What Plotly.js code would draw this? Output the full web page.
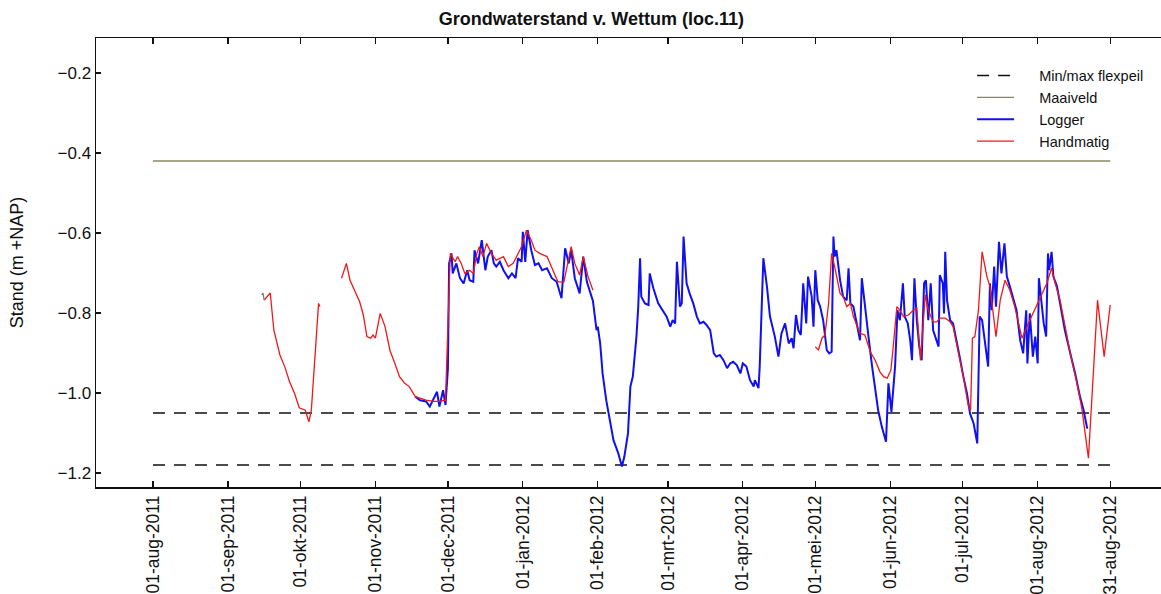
<!DOCTYPE html>
<html>
<head>
<meta charset="utf-8">
<script src="https://cdn.plot.ly/plotly-3.0.1.min.js"></script>
<style>
  html, body { margin: 0; padding: 0; background: #ffffff; overflow: hidden; }
  #chart { width: 1175px; height: 594px; }
</style>
</head>
<body>
<div id="chart"></div>
<script>
// Grondwaterstand v. Wettum (loc.11) -- stand in m +NAP

// Periode waarvoor maaiveld en flexpeil gelden
const periodStart = "2011-08-01";
const periodEnd = "2012-08-31";

// Referentieniveaus (m +NAP)
const maaiveldLevel = -0.42;
const flexpeilMax = -1.05;
const flexpeilMin = -1.18;

// Loggerreeks
const loggerDates = [
  "2011-11-17 12:00","2011-11-19 12:00","2011-11-22","2011-11-23 12:00","2011-11-26 12:00","2011-11-27 12:00",
  "2011-11-29","2011-11-30","2011-12-01","2011-12-01 12:00","2011-12-02 12:00","2011-12-03","2011-12-04 12:00",
  "2011-12-06","2011-12-07 12:00","2011-12-09","2011-12-10","2011-12-11 12:00","2011-12-12","2011-12-13 12:00",
  "2011-12-15","2011-12-16 12:00","2011-12-17 12:00","2011-12-19","2011-12-20","2011-12-21","2011-12-22 12:00",
  "2011-12-24","2011-12-26","2011-12-27 12:00","2011-12-29","2011-12-30","2011-12-31 12:00","2012-01-01",
  "2012-01-02","2012-01-03","2012-01-04 12:00","2012-01-06","2012-01-07 12:00","2012-01-09","2012-01-11",
  "2012-01-13","2012-01-15","2012-01-17","2012-01-18 12:00","2012-01-20","2012-01-21","2012-01-22 12:00",
  "2012-01-24 12:00","2012-01-26","2012-01-27 12:00","2012-01-29","2012-01-30","2012-01-31 12:00","2012-02-01",
  "2012-02-02","2012-02-03","2012-02-04 12:00","2012-02-06","2012-02-07 12:00","2012-02-09 12:00","2012-02-11",
  "2012-02-12","2012-02-13 12:00","2012-02-14 12:00","2012-02-15 12:00","2012-02-17","2012-02-17 18:00",
  "2012-02-18 12:00","2012-02-19","2012-02-20 12:00","2012-02-22","2012-02-22 12:00","2012-02-24","2012-02-26",
  "2012-02-28","2012-02-29 12:00","2012-03-02","2012-03-03","2012-03-04","2012-03-04 18:00","2012-03-06",
  "2012-03-06 18:00","2012-03-07 12:00","2012-03-08 18:00","2012-03-10","2012-03-11 12:00","2012-03-13",
  "2012-03-14 06:00","2012-03-15 18:00","2012-03-17","2012-03-18 12:00","2012-03-20","2012-03-21",
  "2012-03-22 12:00","2012-03-24","2012-03-25 12:00","2012-03-26 18:00","2012-03-28","2012-03-29 12:00",
  "2012-03-31","2012-04-01","2012-04-02 12:00","2012-04-04","2012-04-05 12:00","2012-04-06","2012-04-07 12:00",
  "2012-04-08","2012-04-09 12:00","2012-04-11","2012-04-12 06:00","2012-04-14 06:00","2012-04-15 18:00",
  "2012-04-17","2012-04-18 12:00","2012-04-20","2012-04-21 06:00","2012-04-22","2012-04-23","2012-04-24",
  "2012-04-25","2012-04-26","2012-04-27 06:00","2012-04-28","2012-04-28 18:00","2012-04-29 12:00",
  "2012-04-30 06:00","2012-05-01","2012-05-02","2012-05-03","2012-05-04 06:00","2012-05-05 18:00",
  "2012-05-06 18:00","2012-05-07 18:00","2012-05-08 12:00","2012-05-09","2012-05-09 18:00","2012-05-11 06:00",
  "2012-05-12 12:00","2012-05-14","2012-05-14 18:00","2012-05-15 12:00","2012-05-16 18:00","2012-05-18",
  "2012-05-19 12:00","2012-05-20 06:00","2012-05-21 12:00","2012-05-23","2012-05-24 12:00","2012-05-25 18:00",
  "2012-05-27","2012-05-28 12:00","2012-05-30 06:00","2012-05-31 06:00","2012-06-01 12:00","2012-06-03",
  "2012-06-04","2012-06-05","2012-06-06 06:00","2012-06-07","2012-06-08 06:00","2012-06-09 06:00","2012-06-10",
  "2012-06-11","2012-06-12","2012-06-13","2012-06-14","2012-06-15","2012-06-15 18:00","2012-06-16 18:00",
  "2012-06-17 18:00","2012-06-18 18:00","2012-06-20 06:00","2012-06-21","2012-06-21 12:00","2012-06-22 18:00",
  "2012-06-23 06:00","2012-06-23 18:00","2012-06-24 12:00","2012-06-25 18:00","2012-06-27","2012-06-28 12:00",
  "2012-06-30","2012-07-01 06:00","2012-07-02 18:00","2012-07-04","2012-07-05 12:00","2012-07-07","2012-07-08",
  "2012-07-09","2012-07-10 06:00","2012-07-11 12:00","2012-07-12 06:00","2012-07-13","2012-07-14",
  "2012-07-14 18:00","2012-07-16","2012-07-17","2012-07-18 06:00","2012-07-19 06:00","2012-07-20 12:00",
  "2012-07-22","2012-07-23 06:00","2012-07-24 18:00","2012-07-26","2012-07-27 06:00","2012-07-27 18:00",
  "2012-07-28 18:00","2012-07-30","2012-07-31","2012-08-01","2012-08-01 12:00","2012-08-02 18:00",
  "2012-08-03 12:00","2012-08-04 12:00","2012-08-05 06:00","2012-08-05 18:00","2012-08-06 18:00",
  "2012-08-07 12:00","2012-08-09","2012-08-10 06:00","2012-08-12 06:00","2012-08-14 12:00","2012-08-16 12:00",
  "2012-08-18 12:00","2012-08-20","2012-08-21 12:00"
];
const loggerValues = [
  -1.009,-1.018,-1.021,-1.034,-0.997,-1.034,
  -0.993,-1.030,-0.940,-0.676,-0.651,-0.701,-0.676,
  -0.713,-0.726,-0.693,-0.718,-0.722,-0.643,-0.676,
  -0.618,-0.693,-0.659,-0.643,-0.676,-0.684,-0.672,
  -0.693,-0.713,-0.701,-0.713,-0.663,-0.672,-0.597,
  -0.672,-0.593,-0.643,-0.680,-0.676,-0.693,-0.688,
  -0.713,-0.722,-0.763,-0.638,-0.676,-0.643,-0.713,
  -0.751,-0.659,-0.722,-0.755,-0.770,-0.843,-0.834,
  -0.876,-0.951,-1.018,-1.068,-1.118,-1.151,-1.184,
  -1.159,-1.101,-0.984,-0.959,-0.859,-0.784,
  -0.663,-0.759,-0.776,-0.780,-0.701,-0.738,-0.776,
  -0.793,-0.809,-0.834,-0.818,-0.826,-0.672,-0.784,
  -0.776,-0.609,-0.726,-0.751,-0.776,-0.809,
  -0.826,-0.822,-0.830,-0.843,-0.901,-0.909,
  -0.905,-0.918,-0.938,-0.926,-0.922,-0.930,
  -0.951,-0.926,-0.934,-0.968,-0.984,-0.968,-0.988,
  -0.934,-0.663,-0.734,-0.809,-0.859,-0.909,
  -0.851,-0.826,-0.876,-0.863,-0.888,-0.805,-0.843,
  -0.855,-0.726,-0.826,-0.709,-0.738,-0.759,
  -0.834,-0.693,-0.768,-0.784,-0.818,-0.893,
  -0.901,-0.897,-0.609,-0.659,-0.643,-0.718,
  -0.759,-0.768,-0.688,-0.776,-0.784,-0.826,
  -0.868,-0.713,-0.784,-0.859,-0.934,-0.993,
  -1.043,-1.084,-1.122,-0.976,-1.047,-0.934,
  -0.793,-0.818,-0.726,-0.809,-0.826,-0.868,-0.918,
  -0.713,-0.818,-0.884,-0.918,-0.726,-0.718,-0.818,
  -0.726,-0.843,-0.868,-0.884,-0.705,-0.726,
  -0.801,-0.647,-0.768,-0.818,-0.826,-0.868,
  -0.918,-0.959,-1.001,-1.051,-1.076,-1.126,-0.809,
  -0.818,-0.884,-0.934,-0.726,-0.793,-0.684,
  -0.784,-0.622,-0.701,-0.626,-0.709,-0.734,
  -0.768,-0.793,-0.868,-0.901,-0.793,-0.926,
  -0.801,-0.909,-0.859,-0.926,-0.713,-0.776,
  -0.826,-0.859,-0.651,-0.693,-0.647,
  -0.709,-0.734,-0.776,-0.843,-0.901,-0.951,
  -1.009,-1.043,-1.089
];

// Handmatige metingen (null = geen metingen)
const handDates = [
  "2011-09-16","2011-09-18 12:00","2011-09-20","2011-09-21","2011-09-22 12:00","2011-09-24 12:00",
  "2011-09-26 12:00","2011-09-28 12:00","2011-09-30 12:00","2011-10-03","2011-10-04 12:00","2011-10-05 12:00",
  "2011-10-07","2011-10-08 12:00","2011-10-09",
  "2011-10-13",
  "2011-10-18","2011-10-20","2011-10-21 12:00","2011-10-23 12:00","2011-10-25 12:00","2011-10-27",
  "2011-10-28 12:00","2011-10-30","2011-10-31","2011-11-01","2011-11-03","2011-11-05","2011-11-07",
  "2011-11-09","2011-11-11","2011-11-13","2011-11-15","2011-11-17 12:00","2011-11-19 12:00","2011-11-22",
  "2011-11-25","2011-11-27 12:00","2011-11-30","2011-12-01","2011-12-02","2011-12-04","2011-12-05",
  "2011-12-06 12:00","2011-12-08","2011-12-10","2011-12-11 12:00","2011-12-13","2011-12-14","2011-12-15 12:00",
  "2011-12-17","2011-12-19","2011-12-21","2011-12-24","2011-12-26","2011-12-28","2011-12-30",
  "2011-12-31 12:00","2012-01-02 12:00","2012-01-04 12:00","2012-01-06","2012-01-08","2012-01-11",
  "2012-01-13 12:00","2012-01-15 12:00","2012-01-18","2012-01-20","2012-01-21","2012-01-22 12:00",
  "2012-01-24 12:00","2012-01-26","2012-01-28","2012-01-30",
  "2012-03-15",
  "2012-05-01","2012-05-02 06:00","2012-05-03 18:00","2012-05-05","2012-05-06 12:00","2012-05-07 18:00",
  "2012-05-09","2012-05-11 06:00","2012-05-12 12:00","2012-05-14","2012-05-15 12:00","2012-05-16 18:00",
  "2012-05-19 12:00","2012-05-21 12:00","2012-05-23 18:00","2012-05-25 18:00","2012-05-27 18:00",
  "2012-05-29 06:00","2012-05-30 18:00","2012-06-01 06:00","2012-06-02 06:00","2012-06-03 18:00","2012-06-05",
  "2012-06-06 12:00","2012-06-08 12:00","2012-06-10 12:00","2012-06-12","2012-06-13 12:00","2012-06-15 12:00",
  "2012-06-16 18:00","2012-06-18 18:00","2012-06-20 06:00","2012-06-21 12:00","2012-06-23 18:00",
  "2012-06-25 18:00","2012-06-27","2012-06-29 06:00","2012-07-01 06:00","2012-07-03 06:00","2012-07-04 06:00",
  "2012-07-05","2012-07-06","2012-07-07 12:00","2012-07-09","2012-07-11","2012-07-12 06:00","2012-07-14 18:00",
  "2012-07-16 12:00","2012-07-18 12:00","2012-07-20 12:00","2012-07-22 12:00","2012-07-25 12:00",
  "2012-07-28 18:00","2012-08-02","2012-08-04 18:00","2012-08-06 18:00","2012-08-08 06:00","2012-08-10 06:00",
  "2012-08-12 06:00","2012-08-14 12:00","2012-08-17 06:00","2012-08-19 06:00","2012-08-22","2012-08-25 18:00",
  "2012-08-28 12:00","2012-08-31"
];
const handValues = [
  -0.768,-0.750,-0.843,-0.867,-0.905,-0.934,
  -0.972,-1.000,-1.037,-1.043,-1.072,-1.043,
  -0.918,-0.776,-0.784,
  null,
  -0.713,-0.676,-0.718,-0.743,-0.772,-0.805,
  -0.859,-0.863,-0.855,-0.863,-0.801,-0.834,-0.893,
  -0.925,-0.959,-0.975,-0.984,-1.009,-1.013,-1.018,
  -1.021,-1.021,-1.018,-0.820,-0.651,-0.672,-0.659,
  -0.676,-0.701,-0.693,-0.701,-0.651,-0.634,-0.659,
  -0.626,-0.651,-0.668,-0.659,-0.684,-0.676,-0.651,
  -0.634,-0.593,-0.618,-0.643,-0.651,-0.659,
  -0.693,-0.722,-0.722,-0.659,-0.634,-0.676,
  -0.705,-0.659,-0.709,-0.743,
  null,
  -0.884,-0.893,-0.863,-0.855,-0.776,-0.651,
  -0.684,-0.751,-0.759,-0.784,-0.776,-0.809,
  -0.851,-0.855,-0.897,-0.918,-0.947,
  -0.959,-0.963,-0.943,-0.884,-0.784,-0.793,
  -0.809,-0.805,-0.793,-0.788,-0.918,-0.755,
  -0.793,-0.822,-0.822,-0.813,-0.813,
  -0.822,-0.834,-0.901,-0.959,-1.030,-1.043,
  -0.863,-0.859,-0.793,-0.647,-0.709,-0.734,-0.859,
  -0.768,-0.718,-0.743,-0.784,-0.863,
  -0.818,-0.763,-0.726,-0.688,-0.726,-0.768,
  -0.834,-0.901,-0.976,-1.038,-1.163,-0.768,
  -0.909,-0.780
];

// Korte grijze reeks bij de eerste meting
const grayDates = ["2011-09-15", "2011-09-15 12:00", "2011-09-16"];
const grayValues = [-0.755, -0.750, -0.768];

// As-labels
const tickDates = [
  "2011-08-01","2011-09-01","2011-10-01","2011-11-01","2011-12-01","2012-01-01","2012-02-01",
  "2012-03-01","2012-04-01","2012-05-01","2012-06-01","2012-07-01","2012-08-01","2012-08-31"
];
const tickLabels = [
  "01-aug-2011","01-sep-2011","01-okt-2011","01-nov-2011","01-dec-2011","01-jan-2012","01-feb-2012",
  "01-mrt-2012","01-apr-2012","01-mei-2012","01-jun-2012","01-jul-2012","01-aug-2012","31-aug-2012"
];
const yTicks = [-1.2, -1.0, -0.8, -0.6, -0.4, -0.2];

const FONT = "Liberation Sans, Arial, Helvetica, sans-serif";
// ruimte tussen legendalijn en legendatekst
const LEGEND_PAD = "\u00a0\u00a0\u00a0\u00a0\u00a0";

const traces = [
  {
    name: LEGEND_PAD + "Min/max flexpeil",
    x: [periodStart, periodEnd, null, periodStart, periodEnd],
    y: [flexpeilMax, flexpeilMax, null, flexpeilMin, flexpeilMin],
    mode: "lines",
    line: { color: "#111111", width: 1.4, dash: "12px,9px" },
    connectgaps: false,
    hoverinfo: "skip"
  },
  {
    name: LEGEND_PAD + "Maaiveld",
    x: [periodStart, periodEnd],
    y: [maaiveldLevel, maaiveldLevel],
    mode: "lines",
    line: { color: "#8a8660", width: 1.3 },
    hoverinfo: "skip"
  },
  {
    name: LEGEND_PAD + "Logger",
    x: loggerDates,
    y: loggerValues,
    mode: "lines",
    line: { color: "#1010f0", width: 2 }
  },
  {
    name: LEGEND_PAD + "Handmatig",
    x: handDates,
    y: handValues,
    mode: "lines",
    connectgaps: false,
    line: { color: "#f01818", width: 1.3 }
  },
  {
    name: "",
    x: grayDates,
    y: grayValues,
    mode: "lines",
    showlegend: false,
    line: { color: "#7a7a7a", width: 1.3 }
  }
];

const layout = {
  width: 1175,
  height: 594,
  margin: { l: 96, r: 8, t: 38, b: 107, pad: 0 },
  paper_bgcolor: "#ffffff",
  plot_bgcolor: "#ffffff",
  font: { family: FONT, size: 17, color: "#111111" },
  showlegend: true,
  title: {
    text: "<b>Grondwaterstand v. Wettum (loc.11)</b>",
    font: { family: FONT, size: 18, color: "#111111" },
    x: 0.4625, xref: "paper", xanchor: "center",
    y: 0.968, yref: "container", yanchor: "middle"
  },
  xaxis: {
    type: "date",
    range: ["2011-07-08 10:00", "2012-09-23 12:00"],
    tickmode: "array",
    tickvals: tickDates,
    ticktext: tickLabels,
    tickangle: -90,
    ticks: "inside",
    ticklen: 6,
    tickwidth: 1.3,
    tickcolor: "#111111",
    showline: true,
    linecolor: "#111111",
    linewidth: 1.5,
    mirror: "ticks",
    showgrid: false,
    zeroline: false,
    tickfont: { family: FONT, size: 17.5, color: "#111111" }
  },
  yaxis: {
    range: [-1.235, -0.1125],
    tickmode: "array",
    tickvals: yTicks,
    tickformat: ".1f",
    ticks: "inside",
    ticklen: 5,
    tickwidth: 1.3,
    tickcolor: "#111111",
    showline: true,
    linecolor: "#111111",
    linewidth: 1.5,
    mirror: "ticks",
    showgrid: false,
    zeroline: false,
    tickfont: { family: FONT, size: 17, color: "#111111" },
    title: {
      text: "Stand (m +NAP)",
      font: { family: FONT, size: 18, color: "#111111" },
      standoff: 29
    }
  },
  legend: {
    x: 0.818, xanchor: "left",
    y: 0.952, yanchor: "top",
    bgcolor: "rgba(255,255,255,0)",
    borderwidth: 0,
    font: { family: FONT, size: 14.5, color: "#111111" },
    tracegroupgap: 0,
    itemwidth: 37
  }
};

Plotly.newPlot("chart", traces, layout, { displayModeBar: false, staticPlot: true });
</script>
</body>
</html>
